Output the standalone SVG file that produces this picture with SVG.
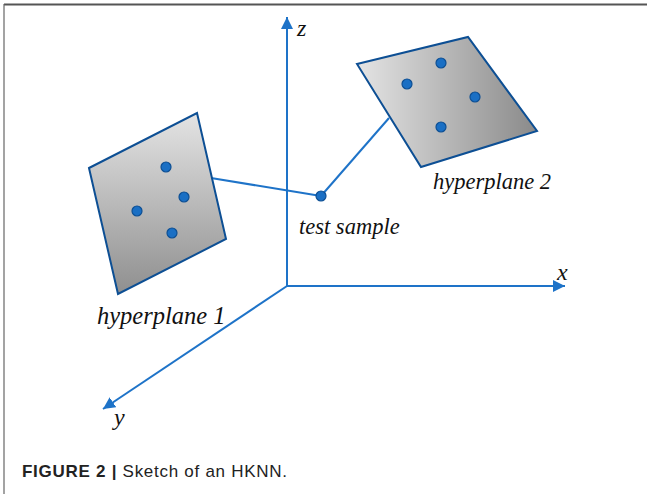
<svg xmlns="http://www.w3.org/2000/svg" width="647" height="494" viewBox="0 0 647 494">
<defs>
<linearGradient id="g1" x1="0" y1="0" x2="0" y2="1"><stop offset="0" stop-color="#e4e4e4"/><stop offset="1" stop-color="#8f8f8f"/></linearGradient>
<linearGradient id="g2" x1="0" y1="0" x2="1" y2="0"><stop offset="0" stop-color="#e4e4e4"/><stop offset="1" stop-color="#8a8a8a"/></linearGradient>
<marker id="ah" viewBox="0 0 10 10" refX="10" refY="5" markerWidth="12" markerHeight="12" markerUnits="userSpaceOnUse" orient="auto"><path d="M0,0 L10,5 L0,10 z" fill="#1e73c8"/></marker>
<style>
.ax{stroke:#1e73c8;stroke-width:2;fill:none}
.ln{stroke:#1e73c8;stroke-width:2;fill:none}
.pl{stroke:#0d4f94;stroke-width:2}
.dot{fill:#1a6fc4;stroke:#0d4f94;stroke-width:1.2}
.lbl{font-family:"Liberation Serif",serif;font-style:italic;fill:#111}
.cap{font-family:"Liberation Sans",Arial,sans-serif;font-size:17px;fill:#222}
</style>
</defs>
<rect width="647" height="494" fill="#fff"/>
<line x1="4" y1="4.5" x2="647" y2="4.5" stroke="#555" stroke-width="2"/>
<line x1="4" y1="4" x2="4" y2="494" stroke="#666" stroke-width="1.2"/>
<g id="connectors">
<line class="ax" x1="287" y1="286" x2="287" y2="17" marker-end="url(#ah)"/>
<line class="ax" x1="287" y1="286" x2="565" y2="286" marker-end="url(#ah)"/>
<line class="ax" x1="287" y1="286" x2="103" y2="409" marker-end="url(#ah)"/>
<line class="ln" x1="321" y1="196" x2="211" y2="178"/>
<line class="ln" x1="321" y1="196" x2="389" y2="118"/>
</g>
<g id="hyperplane1">
<polygon class="pl" points="89,168 197,113 226,239 118,294" fill="url(#g1)"/>
<circle class="dot" cx="166" cy="167" r="5"/>
<circle class="dot" cx="184" cy="197" r="5"/>
<circle class="dot" cx="137" cy="211" r="5"/>
<circle class="dot" cx="172" cy="233" r="5"/>
<text class="lbl" x="97" y="324" font-size="24.5">hyperplane 1</text>
</g>
<g id="hyperplane2">
<polygon class="pl" points="357,64 468,37 537,131 421,167" fill="url(#g2)"/>
<circle class="dot" cx="441" cy="63" r="5"/>
<circle class="dot" cx="407" cy="84" r="5"/>
<circle class="dot" cx="475" cy="97" r="5"/>
<circle class="dot" cx="441" cy="127" r="5"/>
<text class="lbl" x="433" y="189" font-size="22.5">hyperplane 2</text>
</g>
<g id="test-sample">
<circle class="dot" cx="321" cy="196" r="5"/>
<text class="lbl" x="299" y="234" font-size="22.5">test sample</text>
</g>
<g id="axis-labels">
<text class="lbl" x="297" y="36" font-size="24">z</text>
<text class="lbl" x="557" y="280" font-size="24">x</text>
<text class="lbl" x="114" y="425" font-size="24">y</text>
</g>
<text class="cap" x="22" y="477" textLength="265" lengthAdjust="spacing"><tspan font-weight="bold">FIGURE 2 | </tspan>Sketch of an HKNN.</text>
</svg>
